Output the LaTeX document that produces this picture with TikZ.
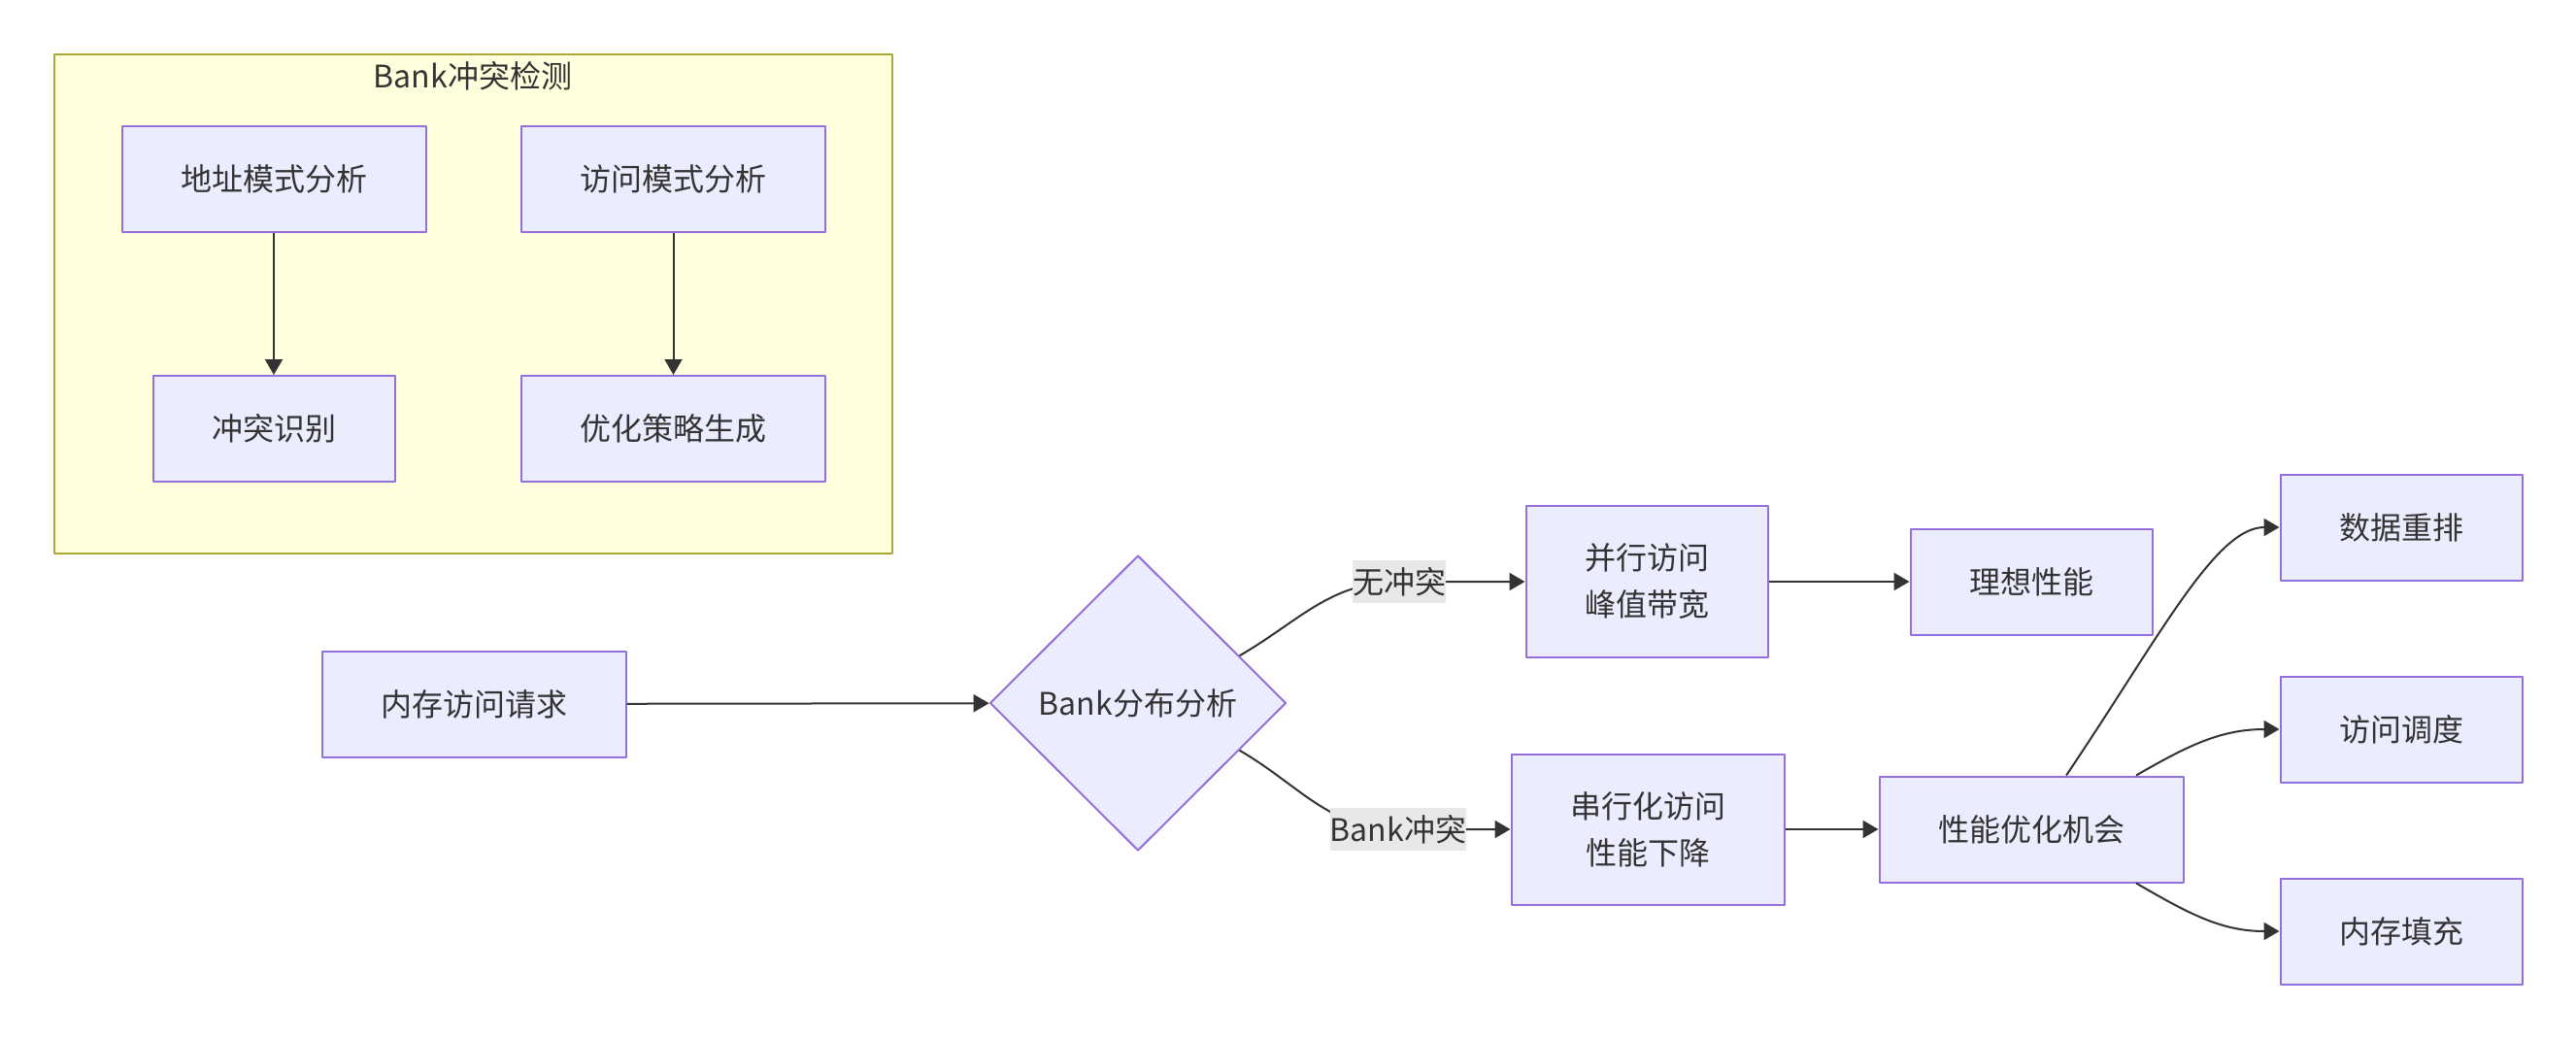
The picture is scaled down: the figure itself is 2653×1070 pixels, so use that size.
\documentclass[tikz,border=0pt]{standalone}
\usepackage{fontspec}
\setmainfont{Noto Sans CJK SC}
\usetikzlibrary{shapes.geometric,arrows.meta}
\definecolor{nodefill}{HTML}{ECECFF}
\definecolor{nodeline}{HTML}{9370DB}
\definecolor{grpfill}{HTML}{FFFFDE}
\definecolor{grpline}{HTML}{AAAA33}
\definecolor{ink}{HTML}{333333}
\definecolor{lblfill}{HTML}{E8E8E8}
\begin{document}
\begin{tikzpicture}[x=0.5pt,y=-0.5pt,font=\fontsize{16pt}{24pt}\selectfont,text=ink,line join=round,
		>={Triangle[length=8pt,width=9pt]},
		box/.style={draw=nodeline,fill=nodefill,line width=1pt,minimum height=54.5pt,align=center,inner sep=0pt},
		dia/.style={shape=diamond,draw=nodeline,fill=nodefill,line width=1pt,minimum width=152.5pt,minimum height=152pt,inner sep=0pt},
		lbl/.style={fill=lblfill,inner xsep=0pt,inner ysep=3.5pt},
		arr/.style={->,draw=ink,line width=1pt}]
		\useasboundingbox (0,0) rectangle (2653,1070);
		% group
		\draw[grpline,fill=grpfill,line width=1pt] (56,56) rectangle (919,570);
		\node (grp) at (487,78) {Bank冲突检测};
		\node[box,minimum width=156.5pt] (addr) at (282,184.5) {地址模式分析};
		\node[box,minimum width=156.5pt] (acc) at (693.5,184.5) {访问模式分析};
		\node[box,minimum width=124.5pt] (conf) at (282,441.5) {冲突识别};
		\node[box,minimum width=156.5pt] (strat) at (693.5,441.5) {优化策略生成};
		% main flow
		\node[box,minimum width=156.5pt] (req) at (488,725) {内存访问请求};
		\node[dia] (dia) at (1172,724) {Bank分布分析};
		\node[box,minimum width=124.5pt,minimum height=78pt] (par) at (1696,599) {并行访问\\峰值带宽};
		\node[box,minimum width=124.5pt] (ideal) at (2092,599) {理想性能};
		\node[box,minimum width=140.5pt,minimum height=77.5pt] (ser) at (1697,854) {串行化访问\\性能下降};
		\node[box,minimum width=156.5pt] (opt) at (2092,854) {性能优化机会};
		\node[box,minimum width=124.5pt] (dr) at (2473,543) {数据重排};
		\node[box,minimum width=124.5pt] (sched) at (2473,751) {访问调度};
		\node[box,minimum width=124.5pt] (pad) at (2473,959) {内存填充};
		% label points
		\coordinate (yes) at (1441,599);
		\coordinate (no) at (1440,854);
		% edges
		\draw[arr] (addr) -- (conf);
		\draw[arr] (acc) -- (strat);
		\draw[arr] (req) -- (dia);
		\draw[arr] (dia.25) to[out=30,in=180] (yes) node[lbl] {无冲突} -- (par);
		\draw[arr] (dia.-25) to[out=-30,in=180] (no) node[lbl] {Bank冲突} -- (ser);
		\draw[arr] (par) -- (ideal);
		\draw[arr] (ser) -- (opt);
		\draw[arr] ([xshift=18pt]opt.north) to[out=56,in=180,out looseness=1.3,in looseness=0.5] (dr);
		\draw[arr] ([xshift=54pt]opt.north) to[out=30,in=180] (sched);
		\draw[arr] ([xshift=54pt]opt.south) to[out=-30,in=180] (pad);
\end{tikzpicture}
\end{document}
